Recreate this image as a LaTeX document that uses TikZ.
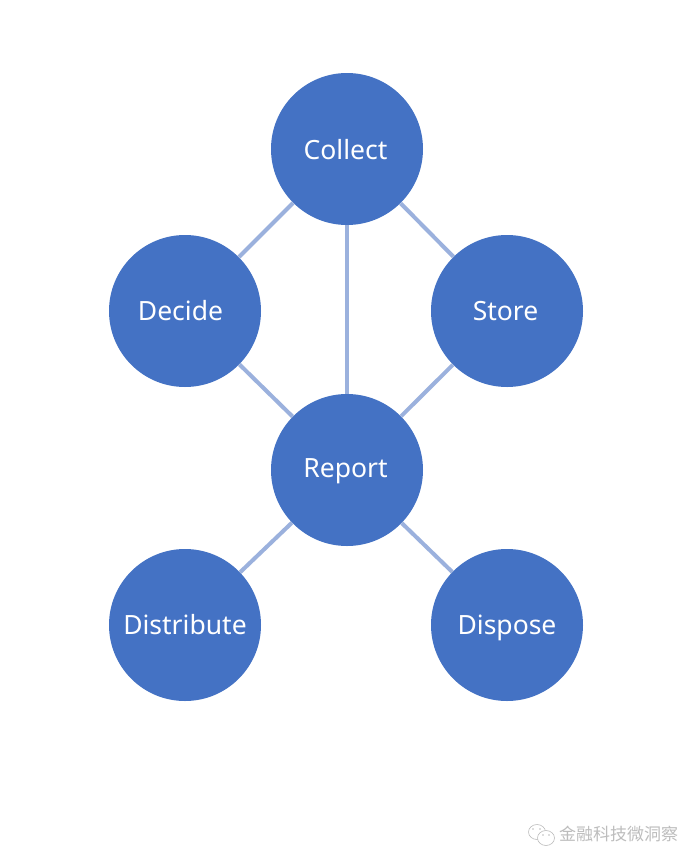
\documentclass[tikz,border=0pt]{standalone}
\usepackage{fontspec}
\setmainfont{Noto Sans}
\newfontfamily\cjk{Noto Sans CJK SC}
\usetikzlibrary{positioning, shapes.geometric}
\definecolor{stageblue}{HTML}{4472C4}
\definecolor{linkblue}{HTML}{9BB1DD}
\definecolor{markgray}{HTML}{BDBDBD}
\tikzset{
    stage/.style={circle, fill=stageblue, text=white, minimum size=152pt, inner sep=0pt, text height=24pt, text depth=6pt, font=\fontsize{26.5}{30}\selectfont},
    link/.style={draw=linkblue, line width=4pt},
    bubble/.style={draw=markgray, fill=white, line width=0.6pt, ellipse, minimum width=17pt, minimum height=15pt, inner sep=0pt},
    wmark/.style={text=markgray, font=\cjk\fontsize{17}{20}\selectfont, inner sep=0pt},
    speck/.style={circle, fill=markgray, minimum size=1.6pt, inner sep=0pt},
}

\begin{document}
\begin{tikzpicture}[x=1pt, y=1pt]
    \tikzset{node distance=162pt, on grid}

    \path[use as bounding box, fill=white] (0,0) rectangle (700,-865);

    \node[stage] (collect) at (347,-149) {\hspace*{-3pt}\raisebox{-1pt}{Collect}};
    \node[stage, below left=162pt and 162pt of collect] (decide) {\hspace*{-9pt}Decide};
    \node[stage, below right=162pt and 160pt of collect] (store) {\hspace*{-3pt}Store};
    \node[stage, below=321pt of collect] (report) {\hspace*{-3pt}\raisebox{2pt}{Report}};
    \node[stage, below left=155pt and 162pt of report] (distribute) {Distribute};
    \node[stage, below right=155pt and 160pt of report] (dispose) {Dispose};

    \draw[link] (collect) -- (decide);
    \draw[link] (collect) -- (store);
    \draw[link] (collect) -- (report);
    \draw[link] (decide) -- (report);
    \draw[link] (store) -- (report);
    \draw[link] (report) -- (distribute);
    \draw[link] (report) -- (dispose);

    % watermark
    \node[wmark, anchor=west] (wm) at (559,-834) {金融科技微洞察};
    \node[bubble] (b1) at (537,-832) {};
    \node[bubble] (b2) at (546,-838) {};
    \node[speck] at (533,-829) {};
    \node[speck] at (540,-829) {};
    \node[speck] at (543,-835) {};
    \node[speck] at (549,-835) {};
\end{tikzpicture}
\end{document}
